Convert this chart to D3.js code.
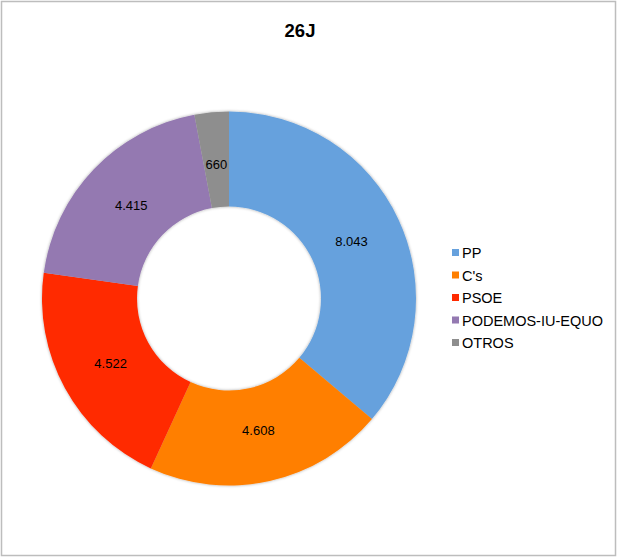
<!DOCTYPE html>
<html>
<head>
<meta charset="utf-8">
<script src="https://cdn.jsdelivr.net/npm/d3@7"></script>
<style>
  html, body { margin: 0; padding: 0; background: #fff; }
  svg { display: block; }
  text { font-family: "Liberation Sans", Arial, sans-serif; }
</style>
</head>
<body>
<svg id="chart" width="617" height="558"></svg>
<script>
const title = "26J";
const categories = ["PP", "C's", "PSOE", "PODEMOS-IU-EQUO", "OTROS"];
const values = [8043, 4608, 4522, 4415, 660];
const valueLabels = ["8.043", "4.608", "4.522", "4.415", "660"];
const colors = ["#66A1DD", "#FF7F00", "#FF2A00", "#9479B1", "#8E8E8E"];

const svg = d3.select("#chart");

// frame
svg.append("rect")
  .attr("x", 1.5).attr("y", 1.5)
  .attr("width", 614).attr("height", 554)
  .attr("fill", "#fff")
  .attr("stroke", "#bdbdbd").attr("stroke-width", 1.5);

// title
svg.append("text")
  .attr("x", 300).attr("y", 37)
  .attr("text-anchor", "middle")
  .attr("font-size", 18.5).attr("font-weight", "bold")
  .attr("fill", "#000")
  .text(title);

const cx = 229, cy = 298.5, rOuter = 187, rInner = 92;

const defs = svg.append("defs");
const f = defs.append("filter").attr("id", "sh").attr("x", "-10%").attr("y", "-10%").attr("width", "120%").attr("height", "120%");
f.append("feDropShadow").attr("dx", 0).attr("dy", 0).attr("stdDeviation", 1.5)
  .attr("flood-color", "#000").attr("flood-opacity", 0.35);

const data = categories.map((c, i) => ({ cat: c, value: values[i], label: valueLabels[i], color: colors[i] }));

const pie = d3.pie().value(d => d.value).sort(null);
const arc = d3.arc().innerRadius(rInner).outerRadius(rOuter);
const labelArc = d3.arc().innerRadius(135).outerRadius(135);

const g = svg.append("g").attr("transform", `translate(${cx},${cy})`);
const arcs = pie(data);

g.append("g").attr("filter", "url(#sh)")
  .selectAll("path").data(arcs).join("path")
  .attr("d", arc)
  .attr("fill", d => d.data.color);

g.selectAll("text.lbl").data(arcs).join("text")
  .attr("class", "lbl")
  .attr("transform", d => `translate(${labelArc.centroid(d)})`)
  .attr("text-anchor", "middle")
  .attr("dy", "0.35em")
  .attr("font-size", 13)
  .attr("fill", "#000")
  .text(d => d.data.label);

// legend
const legY = d3.scalePoint().domain(categories).range([253, 343]);
const leg = svg.append("g");
const items = leg.selectAll("g").data(data).join("g")
  .attr("transform", d => `translate(0,${legY(d.cat)})`);
items.append("rect")
  .attr("x", 452).attr("y", -4)
  .attr("width", 7).attr("height", 7)
  .attr("fill", d => d.color);
items.append("text")
  .attr("x", 462).attr("y", 0)
  .attr("dy", "0.36em")
  .attr("font-size", 14.5)
  .attr("fill", "#000")
  .text(d => d.cat);
</script>
</body>
</html>
